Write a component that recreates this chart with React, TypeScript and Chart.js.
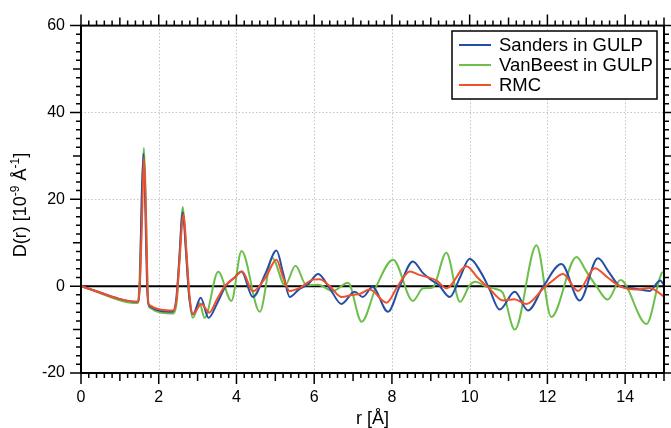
import { useEffect, useRef } from 'react';
import { Chart, registerables } from 'chart.js';

Chart.register(...registerables);

// ---- data (r in Å, D(r) in 10^-9 Å^-1) ----
const sandersR = [0, 1.48, 1.52, 1.56, 1.61, 1.66, 1.70, 1.75, 2.36, 2.45, 2.52, 2.62, 2.70, 2.78, 2.88, 3.08, 3.28, 3.5, 3.72, 3.95, 4.13, 4.42, 4.75, 5.03, 5.2, 5.37, 5.6, 5.85, 6.1, 6.4, 6.7, 7.04, 7.25, 7.5, 7.9, 8.2, 8.54, 8.8, 9.0, 9.2, 9.49, 9.75, 10.0, 10.3, 10.5, 10.77, 11.16, 11.5, 11.9, 12.36, 12.83, 13.3, 13.6, 13.86, 14.2, 14.63, 14.9, 15];
const sandersD = [0, -3.6, 2, 20, 30.5, 16, 0, -4.5, -5.9, -3, 5, 17, 8, -2, -6.5, -2.7, -7.3, -4, 0, 2, 3.4, -2.5, 3, 8.2, 3, -2.5, -0.8, 0.5, 2.8, -0.5, -4.1, -1.3, -2.5, -0.2, -5.9, 0, 5.7, 3.0, 1.5, 0.3, -2.5, 2, 6.3, 3, -0.5, -5.4, -1.3, -5.6, 0, 5.1, -3.3, 6.4, 3, 0, -0.5, -1.1, 1.3, 0.3];

const vanBeestR = [0, 1.46, 1.5, 1.55, 1.62, 1.67, 1.71, 1.76, 2.38, 2.47, 2.53, 2.62, 2.70, 2.78, 2.88, 3.05, 3.18, 3.53, 3.87, 4.13, 4.6, 4.92, 5.25, 5.52, 5.8, 6.1, 6.48, 6.87, 7.22, 7.6, 8.03, 8.54, 8.8, 9.05, 9.4, 9.75, 10.0, 10.15, 10.4, 10.65, 10.85, 11.16, 11.72, 12.1, 12.75, 13.0, 13.26, 13.55, 13.88, 14.55, 14.95, 15];
const vanBeestD = [0, -3.9, 0, 14, 31.8, 18, 0, -4.9, -6.3, -3, 6, 18.2, 9, -2, -7.3, -3.9, -7.3, 3.3, -3.4, 8.1, -5.9, 6.5, 0.2, 4.7, 0.2, 0.3, -1.1, 0.8, -8.2, 0, 6.1, -3.4, -0.5, -0.3, 7.7, -3.6, 0.2, 1.0, 0, -0.6, -1.5, -10, 9.4, -7.1, 6.7, 3.4, 0, -3.1, 1.4, -8.7, 3.1, 3.3];

const rmcR = [0, 1.47, 1.51, 1.56, 1.62, 1.67, 1.71, 1.75, 2.37, 2.46, 2.52, 2.64, 2.72, 2.79, 2.88, 3.1, 3.3, 3.5, 3.7, 3.95, 4.15, 4.42, 4.75, 5.03, 5.2, 5.37, 5.63, 5.97, 6.14, 6.4, 6.7, 7.0, 7.17, 7.43, 7.86, 8.15, 8.46, 8.7, 9.15, 9.4, 9.92, 10.2, 10.5, 10.86, 11.15, 11.46, 11.9, 12.14, 12.4, 12.79, 13.22, 13.55, 13.86, 14.29, 14.63, 15];
const rmcD = [0, -3.6, 0, 12, 29.6, 17, 0, -4.3, -5.6, -3, 4, 16.5, 7, -2, -6.4, -4.1, -6.1, -3, 0, 2, 3.4, -1.2, 2, 6.1, 2, -1.1, -0.4, 1.5, 1.6, 0, -2.5, -2, -1.8, -0.8, -3.8, 0, 3.4, 2.6, 1.3, -0.5, 4.6, 2, -0.5, -3.3, -3, -4.1, -0.5, 1.3, 2.8, -1.1, 4.1, 2, 0, -0.8, -0.4, -2.4];

const seriesNames = ['Sanders in GULP', 'VanBeest in GULP', 'RMC'];
const seriesColors = ['#2350a6', '#6cbf4a', '#f0502c'];

const xTicks = [0, 2, 4, 6, 8, 10, 12, 14];
const yTicks = [-20, 0, 20, 40, 60];
const xMin = 0, xMax = 15, yMin = -20, yMax = 60;
const xMinorStep = 0.2, yMinorStep = 2;

const FONT = "'Liberation Sans', Arial, sans-serif";

const toPts = (rs: number[], ds: number[]) => rs.map((r, i) => ({ x: r, y: ds[i] }));

const framePlugin = {
  id: 'framePlugin',
  beforeDatasetsDraw(chart: any) {
    const { ctx, chartArea: a, scales } = chart;
    const xs = scales.x, ys = scales.y;
    ctx.save();
    ctx.strokeStyle = '#c4c4c4';
    ctx.lineWidth = 1;
    ctx.setLineDash([1.5, 2]);
    for (const v of xTicks) {
      if (v === xMin || v === xMax) continue;
      const px = Math.round(xs.getPixelForValue(v)) + 0.5;
      ctx.beginPath(); ctx.moveTo(px, a.top); ctx.lineTo(px, a.bottom); ctx.stroke();
    }
    for (const v of yTicks) {
      if (v === yMin || v === yMax || v === 0) continue;
      const py = Math.round(ys.getPixelForValue(v)) + 0.5;
      ctx.beginPath(); ctx.moveTo(a.left, py); ctx.lineTo(a.right, py); ctx.stroke();
    }
    ctx.setLineDash([]);
    ctx.strokeStyle = '#000';
    ctx.lineWidth = 2;
    const z = ys.getPixelForValue(0);
    ctx.beginPath(); ctx.moveTo(a.left, z); ctx.lineTo(a.right, z); ctx.stroke();
    ctx.restore();
  },
  afterDraw(chart: any) {
    const { ctx, chartArea: a, scales } = chart;
    const xs = scales.x, ys = scales.y;
    ctx.save();
    ctx.strokeStyle = '#000';
    ctx.lineWidth = 2;
    ctx.strokeRect(a.left, a.top, a.right - a.left, a.bottom - a.top);
    ctx.lineWidth = 1.5;
    // x ticks (top & bottom, outward)
    const nx = Math.round((xMax - xMin) / xMinorStep);
    for (let i = 0; i <= nx; i++) {
      const vi = Math.round((xMin + i * xMinorStep) * 10) / 10;
      const isMajor = Math.abs(vi / 2 - Math.round(vi / 2)) < 1e-6;
      const isMed = !isMajor && Math.abs(vi - Math.round(vi)) < 1e-6;
      const len = isMajor ? 11 : isMed ? 8 : 5;
      const px = xs.getPixelForValue(vi);
      ctx.beginPath();
      ctx.moveTo(px, a.bottom); ctx.lineTo(px, a.bottom + len);
      ctx.moveTo(px, a.top); ctx.lineTo(px, a.top - len);
      ctx.stroke();
    }
    const ny = Math.round((yMax - yMin) / yMinorStep);
    for (let i = 0; i <= ny; i++) {
      const v = yMin + i * yMinorStep;
      const isMajor = v % 20 === 0;
      const isMed = !isMajor && v % 10 === 0;
      const len = isMajor ? 11 : isMed ? 8 : 5;
      const py = ys.getPixelForValue(v);
      ctx.beginPath();
      ctx.moveTo(a.left, py); ctx.lineTo(a.left - len, py);
      ctx.moveTo(a.right, py); ctx.lineTo(a.right + len, py);
      ctx.stroke();
    }
    // legend
    const lx = 452, ly = 31, lw = 205, lh = 68;
    ctx.fillStyle = '#fff';
    ctx.fillRect(lx, ly, lw, lh);
    ctx.lineWidth = 1.5;
    ctx.strokeStyle = '#000';
    ctx.strokeRect(lx, ly, lw, lh);
    ctx.font = `18.5px ${FONT}`;
    ctx.textBaseline = 'middle';
    ctx.textAlign = 'left';
    seriesNames.forEach((name, i) => {
      const cy = 45 + i * 20;
      ctx.strokeStyle = seriesColors[i];
      ctx.lineWidth = 2;
      ctx.beginPath(); ctx.moveTo(459, cy); ctx.lineTo(491, cy); ctx.stroke();
      ctx.fillStyle = '#000';
      ctx.fillText(name, 499, cy + 1);
    });
    // axis titles
    ctx.fillStyle = '#000';
    ctx.font = `18px ${FONT}`;
    ctx.textAlign = 'center';
    ctx.textBaseline = 'alphabetic';
    ctx.fillText('r [Å]', (a.left + a.right) / 2, 424);
    // y title with superscripts
    const parts: [string, boolean][] = [['D(r) [10', false], ['-9', true], [' Å', false], ['-1', true], [']', false]];
    const big = `18px ${FONT}`, small = `12px ${FONT}`;
    let total = 0;
    const widths = parts.map(([t, sup]) => { ctx.font = sup ? small : big; const w = ctx.measureText(t).width; total += w; return w; });
    ctx.translate(26, 205);
    ctx.rotate(-Math.PI / 2);
    ctx.textAlign = 'left';
    let cx = -total / 2;
    parts.forEach(([t, sup], i) => {
      ctx.font = sup ? small : big;
      ctx.fillText(t, cx, sup ? -7 : 0);
      cx += widths[i];
    });
    ctx.restore();
  },
};

export default function App() {
  const ref = useRef<HTMLCanvasElement>(null);
  useEffect(() => {
    const datasets = [
      { label: seriesNames[0], data: toPts(sandersR, sandersD), order: 1 },
      { label: seriesNames[1], data: toPts(vanBeestR, vanBeestD), order: 2 },
      { label: seriesNames[2], data: toPts(rmcR, rmcD), order: 0 },
    ].map((d, i) => ({
      ...d,
      borderColor: seriesColors[i],
      backgroundColor: seriesColors[i],
      borderWidth: 2,
      pointRadius: 0,
      fill: false,
      cubicInterpolationMode: 'monotone' as const,
    }));
    const chart = new Chart(ref.current!, {
      type: 'line',
      data: { datasets },
      options: {
        animation: false,
        responsive: false,
        maintainAspectRatio: false,
        layout: { padding: { top: 24, right: 7, left: 0, bottom: 0 } },
        plugins: { legend: { display: false }, tooltip: { enabled: false } },
        scales: {
          x: {
            type: 'linear',
            min: xMin,
            max: xMax,
            afterBuildTicks: (s: any) => { s.ticks = xTicks.map((v) => ({ value: v })); },
            afterFit: (s: any) => { s.height = 55; },
            ticks: { font: { family: FONT, size: 16 }, color: '#000', padding: 15, maxRotation: 0, autoSkip: false },
            grid: { display: false, drawTicks: false },
            border: { display: false },
          },
          y: {
            type: 'linear',
            min: yMin,
            max: yMax,
            afterBuildTicks: (s: any) => { s.ticks = yTicks.map((v) => ({ value: v })); },
            afterFit: (s: any) => { s.width = 81; },
            ticks: { font: { family: FONT, size: 16 }, color: '#000', padding: 16, autoSkip: false },
            grid: { display: false, drawTicks: false },
            border: { display: false },
          },
        },
      },
      plugins: [framePlugin],
    });
    return () => chart.destroy();
  }, []);
  return (
    <div style={{ position: 'absolute', left: 0, top: 0, width: 671, height: 428, background: '#fff' }}>
      <canvas ref={ref} width={671} height={428} style={{ display: 'block' }} />
    </div>
  );
}
